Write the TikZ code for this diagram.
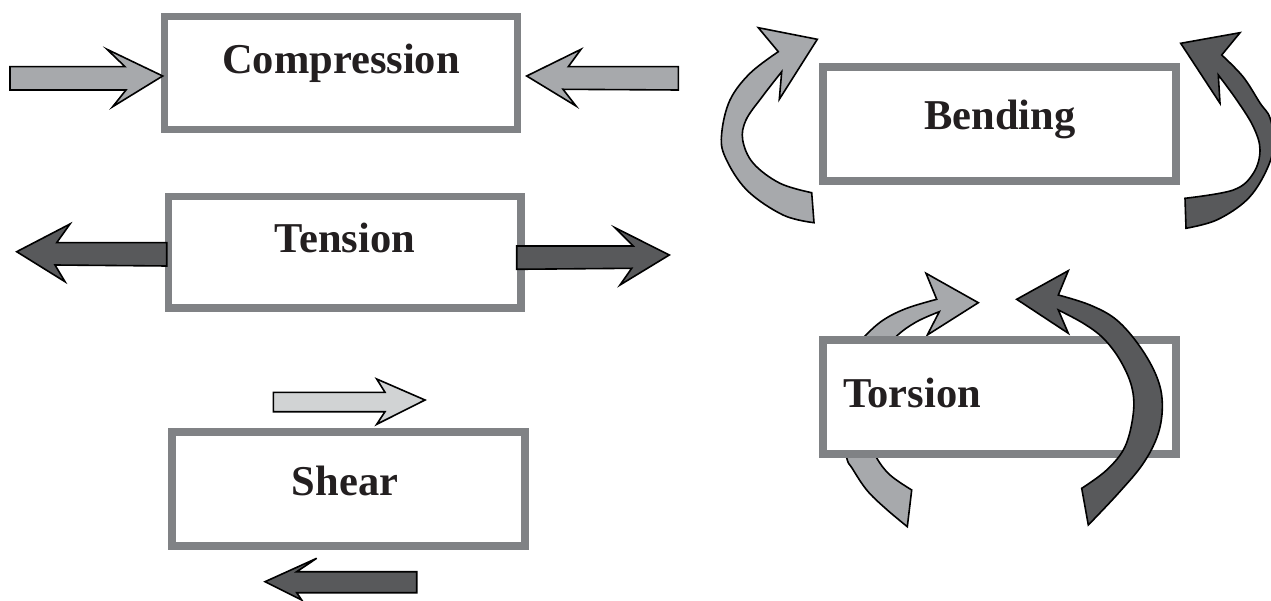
\documentclass[tikz,border=0pt]{standalone}
\usepackage{fontspec}
\setmainfont{Liberation Serif}
\definecolor{boxgray}{HTML}{808285}
\definecolor{lightfill}{HTML}{A7A9AC}
\definecolor{darkfill}{HTML}{58595B}
\definecolor{palefill}{HTML}{D1D3D4}
\definecolor{txt}{HTML}{231F20}
\tikzset{
  loadbox/.style={draw=boxgray, line width=7.5pt, fill=white, rectangle, inner sep=0pt, outer sep=0pt},
  loadlabel/.style={text=txt, font=\fontsize{42.5}{50}\selectfont\bfseries, inner sep=0pt},
  arrowshape/.style={draw=black, line width=1.6pt, line join=miter},
  lightarrow/.style={arrowshape, fill=lightfill},
  darkarrow/.style={arrowshape, fill=darkfill},
  palearrow/.style={arrowshape, fill=palefill},
}
\begin{document}
\begin{tikzpicture}[x=1pt, y=-1pt]
\useasboundingbox (0,0) rectangle (1271,601);
\fill[white] (0,0) rectangle (1271,601);

% torsion light arrow (behind box)
\filldraw[lightarrow] (911.7,490) -- (907.3,526.7)
  -- plot[smooth, tension=0.6] coordinates {(907.3,526.7) (885,508) (866.7,490) (852,468) (846.7,458) (838,420) (842,380) (852,352) (865,336) (883.3,320) (906.7,308.3) (936.7,299.3)}
  -- (926,273.3) -- (978.3,302.7) -- (927.3,335) -- (939.3,311.7)
  -- plot[smooth, tension=0.6] coordinates {(939.3,311.7) (916.7,321.7) (896.7,336) (878,358) (867,400) (870,440) (876.7,458) (890,475) (911.7,490)}
  -- cycle;

% boxes
\node[loadbox, minimum width=352.7pt, minimum height=113pt] (comp) at (340.9,73) {};
\node[loadbox, minimum width=352.5pt, minimum height=111.5pt] (tens) at (344.8,252.3) {};
\node[loadbox, minimum width=353pt, minimum height=114pt] (shear) at (348.5,489) {};
\node[loadbox, minimum width=353pt, minimum height=114pt] (bend) at (999.5,124) {};
\node[loadbox, minimum width=353pt, minimum height=114pt] (tors) at (999.5,397) {};

% labels
\node[loadlabel, anchor=base] (compT) at (341,74) {Compression};
\node[loadlabel, anchor=base] (tensT) at (345,253) {Tension};
\node[loadlabel, anchor=base] (shearT) at (345,495) {Shear};
\node[loadlabel, anchor=base] (bendT) at (1000,129.3) {Bending};
\node[loadlabel, anchor=base west] (torsT) at (843,407) {Torsion};

% compression arrows
\filldraw[lightarrow] (10,66.7) -- (125,66.7) -- (107,49.3) -- (162.7,76) -- (112.7,106.7) -- (126,90) -- (10,90) -- cycle;
\filldraw[lightarrow] (678.3,66.7) -- (568.3,66.7) -- (581,49.3) -- (526.7,76) -- (576,106) -- (563,89.3) -- (678.3,90) -- cycle;

% tension arrows
\filldraw[darkarrow] (166.7,242.7) -- (56.7,242.7) -- (70,224) -- (16.7,251.7) -- (65,281.7) -- (55,265) -- (166.7,266) -- cycle;
\filldraw[darkarrow] (516.7,246) -- (633.3,246) -- (615,227.7) -- (669.3,255) -- (620,285) -- (631.7,268.3) -- (516.7,269.3) -- cycle;

% shear arrows
\filldraw[palearrow] (273.3,392.3) -- (385,392.3) -- (376.7,379) -- (425,400) -- (376.7,424.3) -- (385,411.7) -- (273.3,411.7) -- cycle;
\filldraw[darkarrow] (416.7,571.7) -- (296.7,571.7) -- (316.7,558.3) -- (265,581.7) -- (301.7,600) -- (296.7,592.7) -- (416.7,592.7) -- cycle;

% bending arrows
\filldraw[lightarrow] (811.7,192.7) -- (814,222.7)
  -- plot[smooth, tension=0.6] coordinates {(814,222.7) (783,215) (746.7,190) (725,156.7) (721.7,133.3) (730,100) (750,73.3) (778.3,51.7)}
  -- (758.3,27.7) -- (817.3,39.3) -- (779.3,99.3) -- (781.7,71.7)
  -- plot[smooth, tension=0.6] coordinates {(781.7,71.7) (762,97) (746,120) (742.7,140) (753.3,163.3) (780,183.3) (811.7,192.7)}
  -- cycle;
\filldraw[darkarrow] (1185,198.3) -- (1186,228.3)
  -- plot[smooth, tension=0.6] coordinates {(1186,228.3) (1216.7,220) (1246.7,200) (1265,173.3) (1274,145) (1270,118) (1260,103) (1243,76.7) (1221.7,55)}
  -- (1240,32.7) -- (1180.7,43.3) -- (1220,103.3) -- (1218.3,75)
  -- plot[smooth, tension=0.6] coordinates {(1218.3,75) (1236.7,100) (1253.3,126.7) (1260,150) (1253.3,173.3) (1233.3,190) (1185,198.3)}
  -- cycle;

% torsion dark arrow (over box)
\filldraw[darkarrow] (1081.7,488.3) -- (1088.3,525)
  -- plot[smooth, tension=0.6] coordinates {(1088.3,525) (1118.3,493.3) (1143.3,463.3) (1158.3,433.3) (1162.3,403.3) (1156.7,376.7) (1140,346.7) (1116.7,320) (1090,305) (1058.3,295)}
  -- (1068.3,270.7) -- (1016.7,299.3) -- (1068.3,333.3) -- (1058.3,310)
  -- plot[smooth, tension=0.6] coordinates {(1058.3,310) (1083.3,323.3) (1103.3,338.3) (1120,360) (1131.7,386.7) (1133.3,413.3) (1125,446.7) (1106.7,470) (1081.7,488.3)}
  -- cycle;
\end{tikzpicture}
\end{document}
